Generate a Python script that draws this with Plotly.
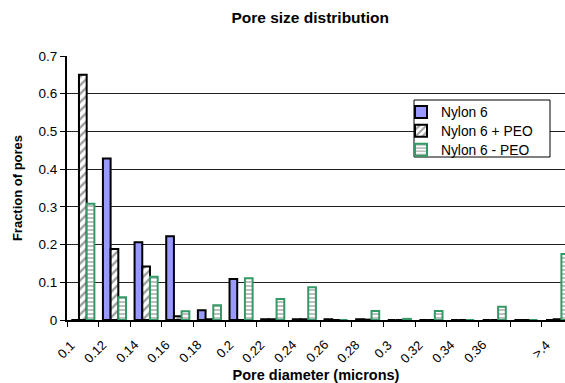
import plotly.graph_objects as go

# Pore diameter classes (microns); the class before ">.4" is left unlabelled
categories = ["0.1", "0.12", "0.14", "0.16", "0.18", "0.2", "0.22", "0.24",
              "0.26", "0.28", "0.3", "0.32", "0.34", "0.36", "", ">.4"]

# Fraction of pores in each class
nylon6 = [0.000, 0.428, 0.206, 0.222, 0.026, 0.109, 0.002, 0.002,
          0.002, 0.002, 0.000, 0.000, 0.000, 0.000, 0.000, 0.000]
nylon6_plus_peo = [0.650, 0.188, 0.142, 0.010, 0.002, 0.000, 0.002, 0.002,
                   0.000, 0.001, 0.000, 0.000, 0.000, 0.000, 0.000, 0.002]
nylon6_minus_peo = [0.308, 0.060, 0.115, 0.023, 0.039, 0.111, 0.056, 0.087,
                    0.000, 0.024, 0.003, 0.024, 0.000, 0.035, 0.000, 0.175]

y_ticks = [0, 0.1, 0.2, 0.3, 0.4, 0.5, 0.6, 0.7]

FONT = "Liberation Sans, Arial, sans-serif"

# one slot per class; tick marks sit on the slot boundaries
slots = list(range(len(categories)))
boundaries = [s - 0.5 for s in slots] + [slots[-1] + 0.5]

fig = go.Figure()
fig.add_trace(go.Bar(
    name="Nylon 6", x=slots, y=nylon6, legend="legend",
    marker=dict(color="#9999FF", line=dict(color="black", width=2)),
))
fig.add_trace(go.Bar(
    name="Nylon 6 + PEO", x=slots, y=nylon6_plus_peo, legend="legend2",
    marker=dict(color="white", line=dict(color="black", width=2),
                pattern=dict(shape="/", fgcolor="#404040", bgcolor="white",
                             size=6, solidity=0.4)),
))
fig.add_trace(go.Bar(
    name="Nylon 6 - PEO", x=slots, y=nylon6_minus_peo, legend="legend3",
    marker=dict(color="white", line=dict(color="#339966", width=2),
                pattern=dict(shape="-", fgcolor="#808080", bgcolor="white",
                             size=4, solidity=0.5)),
))

# class labels, slanted at 45 degrees with their ends under each class
class_labels = [
    dict(x=s, xref="x", y=0, yref="paper", text=label, showarrow=False,
         textangle=-45, xanchor="right", yanchor="top",
         xshift=-2, yshift=-15, font=dict(size=13, family=FONT))
    for s, label in zip(slots, categories) if label
]

legend_style = dict(x=0.6707, xanchor="left", yanchor="top",
                    bgcolor="rgba(0,0,0,0)", borderwidth=0,
                    font=dict(size=13.8, family=FONT))

fig.update_layout(
    width=565, height=383,
    margin=dict(l=67, r=0, t=56, b=63),
    paper_bgcolor="white", plot_bgcolor="white",
    font=dict(family=FONT, color="black", size=13),
    barmode="group", bargap=0.27, bargroupgap=0,
    title=dict(text="Pore size distribution", x=0.549, xanchor="center",
               y=0.955, yanchor="middle",
               font=dict(size=15.5, family=FONT, weight="bold")),
    showlegend=True,
    legend=dict(y=0.8462, **legend_style),
    legend2=dict(y=0.775, **legend_style),
    legend3=dict(y=0.7038, **legend_style),
    annotations=class_labels,
    shapes=[dict(type="rect", xref="paper", yref="paper",
                 x0=0.6968, x1=0.9699, y0=0.6174, y1=0.8333,
                 line=dict(color="black", width=1), fillcolor="white",
                 layer="above")],
)

fig.update_xaxes(
    range=[-0.5, 15.235],
    tickmode="array", tickvals=slots, showticklabels=False, ticks="",
    minor=dict(tickmode="array", tickvals=boundaries, ticks="outside",
               ticklen=5, tickwidth=1, tickcolor="black", showgrid=False),
    showline=True, linecolor="black", linewidth=2, showgrid=False,
    zeroline=False,
    title=dict(text="Pore diameter (microns)", standoff=50,
               font=dict(size=14.5, family=FONT, weight="bold")),
)
fig.update_yaxes(
    range=[0, 0.7], tickmode="array", tickvals=y_ticks,
    ticktext=[f"{v:g}" for v in y_ticks],
    ticks="outside", ticklen=5, tickwidth=1, tickcolor="black",
    tickfont=dict(size=13.5),
    showline=True, linecolor="black", linewidth=2,
    showgrid=True, gridcolor="#222222", gridwidth=1, zeroline=False,
    title=dict(text="Fraction of pores", standoff=13,
               font=dict(size=13, family=FONT, weight="bold")),
)

fig.write_html("out.html")
